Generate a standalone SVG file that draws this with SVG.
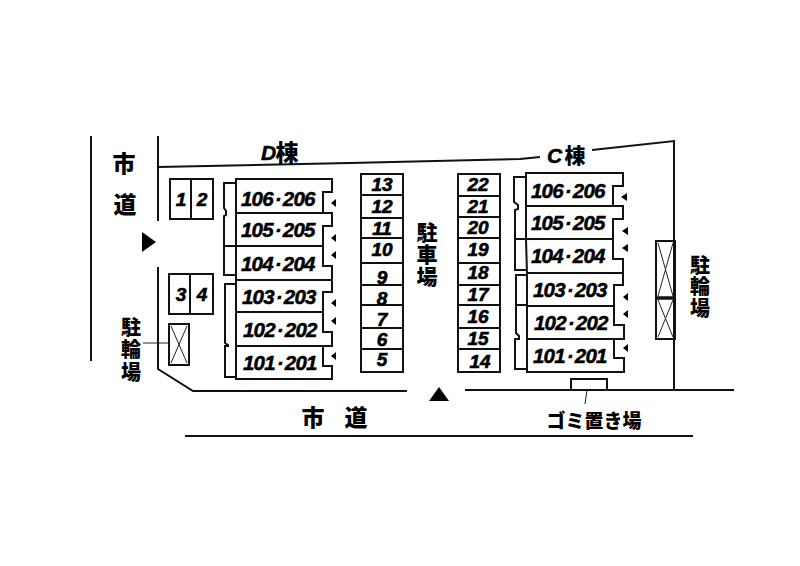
<svg xmlns="http://www.w3.org/2000/svg" width="800" height="566" viewBox="0 0 800 566">
<style>
.l{fill:none;stroke:#111;stroke-width:2}
.t{fill:none;stroke:#222;stroke-width:1}
.f{fill:#000}
.u{font:italic 700 20.5px "Liberation Sans",Arial,sans-serif;letter-spacing:-.8px;fill:#000;stroke:#000;stroke-width:.5}
.n{font:italic 700 19px "Liberation Sans",Arial,sans-serif;fill:#000;stroke:#000;stroke-width:.6;text-anchor:middle}
.j{font-family:"Noto Sans CJK JP",sans-serif;font-weight:900;fill:#000;text-anchor:middle}
.v{writing-mode:vertical-rl;text-anchor:start}
.h{font:italic 700 21px "Liberation Sans",Arial,sans-serif;fill:#000;stroke:#000;stroke-width:.5}
</style>
<rect width="800" height="566" fill="#fff"/>
<g id="connectors">
<path class="l" d="M91 136V361"/>
<path class="l" d="M158 136V221M158 267V369L193 391H407M465 390H734"/>
<path class="l" d="M158 167L350 163L520 159L540 157M592 150L674 141V390"/>
<path class="l" d="M185 436H693"/>
<path class="t" d="M143 343H169M587 390L585 404"/>
</g>
<g id="entry-west"><path class="f" d="M142 232L156 242L142 252Z"/></g>
<g id="entry-south"><path class="f" d="M429 401L439 387L449 401Z"/></g>
<g id="road-west" class="j" font-size="23"><text x="124" y="172">市</text><text x="125" y="213">道</text></g>
<g id="road-south" class="j" font-size="23"><text x="313" y="426">市</text><text x="356" y="426">道</text></g>
<g id="title-d"><text class="h" x="261" y="160">D</text><text class="j" x="287" y="161" font-size="23">棟</text></g>
<g id="title-c"><text class="h" x="547" y="163">C</text><text class="j" x="575" y="163" font-size="21">棟</text></g>
<g id="block-d">
<path class="l" d="M236 179H332V192H323V213H236ZM236 213H332V226H323V246H236ZM236 246H323V266H332V280H236ZM236 284V280H332V292H323V312H236ZM236 312H323V332H332V346H236ZM236 346H323V366H332V379H236Z"/>
<path class="l" d="M236 183H224V208L226 211V215L224 216V275H236M224 246H236M236 284H225V343L228 345V346H225V377H236"/>
<path class="f" d="M331 203L336 199V207ZM331 238L336 234V242ZM331 255L336 251V259ZM331 303L336 299V307ZM331 321L336 317V325ZM331 356L336 352V360Z"/>
</g>
<g id="unit-d-106"><text class="u" x="241" y="206">106<tspan dx="2">·</tspan><tspan dx="2">206</tspan></text></g>
<g id="unit-d-105"><text class="u" x="241" y="237">105<tspan dx="2">·</tspan><tspan dx="2">205</tspan></text></g>
<g id="unit-d-104"><text class="u" x="241" y="271">104<tspan dx="2">·</tspan><tspan dx="2">204</tspan></text></g>
<g id="unit-d-103"><text class="u" x="242" y="304">103<tspan dx="2">·</tspan><tspan dx="2">203</tspan></text></g>
<g id="unit-d-102"><text class="u" x="243" y="337">102<tspan dx="2">·</tspan><tspan dx="2">202</tspan></text></g>
<g id="unit-d-101"><text class="u" x="243" y="370">101<tspan dx="2">·</tspan><tspan dx="2">201</tspan></text></g>
<g id="block-c">
<path class="l" d="M526 173H623V186H613V206H526ZM526 206H623V219H613V239H526ZM526 239H613V259H623V273H527ZM527 273H623V285H614V306H527ZM527 306H614V325H624V339H527ZM527 339H614V358H624V372H527Z"/>
<path class="l" d="M526 177H514V202L518 205V209L515 210V270H526M515 239H526M526 275H516V333L519 336V339H515V369H527M516 305H527"/>
<path class="f" d="M621 197L627 193V201ZM622 231L628 227V235ZM622 248L628 244V252ZM623 297L628 293V301ZM623 314L628 310V318ZM623 348L628 344V352Z"/>
</g>
<g id="unit-c-106"><text class="u" x="531" y="198">106<tspan dx="2">·</tspan><tspan dx="2">206</tspan></text></g>
<g id="unit-c-105"><text class="u" x="531" y="230">105<tspan dx="2">·</tspan><tspan dx="2">205</tspan></text></g>
<g id="unit-c-104"><text class="u" x="531" y="263">104<tspan dx="2">·</tspan><tspan dx="2">204</tspan></text></g>
<g id="unit-c-103"><text class="u" x="533" y="297">103<tspan dx="2">·</tspan><tspan dx="2">203</tspan></text></g>
<g id="unit-c-102"><text class="u" x="534" y="330">102<tspan dx="2">·</tspan><tspan dx="2">202</tspan></text></g>
<g id="unit-c-101"><text class="u" x="533" y="363">101<tspan dx="2">·</tspan><tspan dx="2">201</tspan></text></g>
<g id="parking-1-2"><path class="l" d="M170 179H213V219H170ZM191 179V219"/><text class="n" x="181" y="206">1</text><text class="n" x="202" y="206">2</text></g>
<g id="parking-3-4"><path class="l" d="M169 274H213V314H169ZM190 274V314"/><text class="n" x="181" y="301">3</text><text class="n" x="202" y="301">4</text></g>
<g id="parking-5-13">
<path class="l" d="M361 174H403V372H361ZM361 195H403M361 218H403M361 238H403M361 263H403M361 285H403M361 305H403M361 328H403M361 349H403"/>
<text class="n" x="382" y="191">13</text><text class="n" x="382" y="213">12</text><text class="n" x="382" y="235">11</text><text class="n" x="382" y="256">10</text><text class="n" x="382" y="284">9</text><text class="n" x="382" y="305">8</text><text class="n" x="382" y="326">7</text><text class="n" x="382" y="346">6</text><text class="n" x="382" y="366">5</text>
</g>
<g id="parking-14-22">
<path class="l" d="M458 174H500V372H458ZM458 196H500M458 217H500M458 238H500M458 263H500M458 285H500M458 305H500M458 328H500M458 349H500"/>
<text class="n" x="478" y="191">22</text><text class="n" x="478" y="213">21</text><text class="n" x="478" y="234">20</text><text class="n" x="478" y="256">19</text><text class="n" x="478" y="279">18</text><text class="n" x="478" y="301">17</text><text class="n" x="478" y="323">16</text><text class="n" x="478" y="345">15</text><text class="n" x="480" y="368">14</text>
</g>
<g id="label-parking"><text class="j v" x="427" y="222" font-size="21" letter-spacing="1">駐車場</text></g>
<g id="bike-west"><path class="l" d="M169 324H189V365H169Z"/><path class="t" d="M171 326L187 363M187 326L171 363"/></g>
<g id="label-bike-west"><text class="j v" x="131" y="317" font-size="20" letter-spacing="2.5">駐輪場</text></g>
<g id="bike-east"><path class="l" d="M656 241H675V339H656Z"/><path d="M656 298H675" fill="none" stroke="#111" stroke-width="3.5"/><path class="t" d="M658 243L673 296M673 243L658 296M658 300L673 337M673 300L658 337"/></g>
<g id="label-bike-east"><text class="j v" x="700" y="255" font-size="20" letter-spacing="1.5">駐輪場</text></g>
<g id="garbage"><path class="l" d="M571 390V379H607V390"/></g>
<g id="label-garbage"><text class="j" x="594" y="428" font-size="19">ゴミ置き場</text></g>
</svg>
